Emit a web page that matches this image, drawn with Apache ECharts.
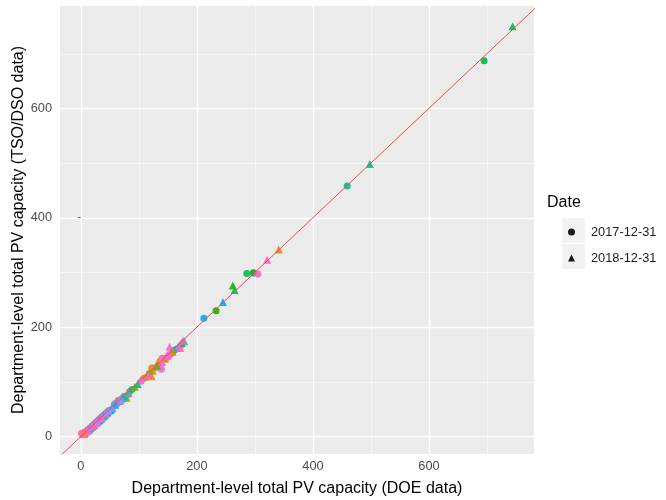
<!DOCTYPE html>
<html>
<head>
<meta charset="utf-8">
<script src="https://cdn.jsdelivr.net/npm/echarts@6/dist/echarts.min.js"></script>
<style>
  html, body { margin: 0; padding: 0; background: #fff; }
  #chart { width: 666px; height: 500px; }
</style>
</head>
<body>
<div id="chart"></div>
<script>
// Department codes (metropolitan France), in factor order
const departments = ['01','02','03','04','05','06','07','08','09','10','11','12','13','14','15','16','17','18','19','2A','2B',
  '21','22','23','24','25','26','27','28','29','30','31','32','33','34','35','36','37','38','39','40',
  '41','42','43','44','45','46','47','48','49','50','51','52','53','54','55','56','57','58','59','60',
  '61','62','63','64','65','66','67','68','69','70','71','72','73','74','75','76','77','78','79','80',
  '81','82','83','84','85','86','87','88','89','90','91','92','93','94','95'];

// Total installed PV capacity (MW) at 2017-12-31
const doe2017 = [58,18,64,158,72,108,298,12,40,30,146,132,122,22,38,70,112,35,27,62,75,
  26,36,24,84,24,118,16,20,40,233,160,297,695,286,30,48,26,88,15,459,
  25,44,32,66,35,64,165,34,58,14,12,16,28,36,53,42,30,46,28,212,
  10,20,74,62,30,154,48,26,30,42,60,38,20,24,4,16,22,8,139,10,
  104,128,305,150,152,140,32,18,30,4,8,1,4,5,6];
const tso2017 = [60,17,66,154,70,106,300,12,38,29,142,128,125,21,37,68,108,34,26,60,73,
  25,35,23,82,23,115,15,19,39,230,157,299,687,298,29,47,25,86,14,458,
  24,43,31,64,34,62,160,33,57,13,11,15,27,35,47,41,29,45,27,216,
  10,19,72,61,29,150,47,25,29,41,58,37,19,23,4,15,21,8,123,10,
  101,125,297,146,149,143,31,17,29,4,8,6,4,5,6];

// Total installed PV capacity (MW) at 2018-12-31
const doe2018 = [66,21,72,171,79,122,341,14,45,35,158,145,133,25,42,79,124,44,30,68,82,
  29,40,28,93,27,132,19,23,44,262,174,null,744,265,34,54,30,98,17,498,
  31,49,36,75,40,72,178,38,66,16,14,20,32,40,59,46,34,52,32,245,
  12,23,82,70,34,168,54,29,35,48,67,43,23,28,5,18,26,9,150,12,
  116,140,321,153,176,171,36,21,36,5,9,3,5,6,7];
const tso2018 = [67,20,73,168,78,110,342,13,44,34,155,142,137,25,40,71,120,43,29,66,80,
  29,39,27,91,26,129,18,22,43,276,171,null,750,268,33,53,29,96,17,498,
  30,48,35,73,39,71,174,37,65,16,14,19,31,39,58,45,33,51,31,246,
  11,22,80,69,33,165,53,28,34,47,66,42,22,27,5,18,25,9,148,12,
  113,136,323,164,175,162,35,20,35,5,9,7,5,6,7];

const dateLabels = ['2017-12-31', '2018-12-31'];
const majorTicks = [0, 200, 400, 600];
const minorTicks = [100, 300, 500, 700];

// Panel ranges (data range plus 5 % padding on each side)
const xRange = [-36, 781];
const yRange = [-32, 787];

// Default discrete hue palette: hcl(h, c = 100, l = 65), hues from 15 to 375
function hueColor(i, n) {
  const h = (15 + 360 * i / n) * Math.PI / 180;
  const L = 65, C = 100;
  const u = C * Math.cos(h), v = C * Math.sin(h);
  const Xn = 95.047, Yn = 100, Zn = 108.883;
  const Y = Yn * Math.pow((L + 16) / 116, 3);
  const den = Xn + 15 * Yn + 3 * Zn;
  const un = 4 * Xn / den, vn = 9 * Yn / den;
  const up = u / (13 * L) + un, vp = v / (13 * L) + vn;
  const X = Y * 9 * up / (4 * vp);
  const Z = Y * (12 - 3 * up - 20 * vp) / (4 * vp);
  const x = X / 100, y = Y / 100, z = Z / 100;
  const lin = [
    3.2404542 * x - 1.5371385 * y - 0.4985314 * z,
    -0.9692660 * x + 1.8760108 * y + 0.0415560 * z,
    0.0556434 * x - 0.2040259 * y + 1.0572252 * z
  ];
  const hex = lin.map(c => {
    let s = c <= 0.0031308 ? 12.92 * c : 1.055 * Math.pow(c, 1 / 2.4) - 0.055;
    s = Math.max(0, Math.min(1, s));
    return Math.round(s * 255).toString(16).padStart(2, '0');
  });
  return '#' + hex.join('');
}

const deptColors = departments.map((d, i) => hueColor(i, departments.length));

function pointsFor(doe, tso) {
  const out = [];
  departments.forEach((d, i) => {
    if (doe[i] == null || tso[i] == null) return;
    out.push({ name: d, value: [doe[i], tso[i]], itemStyle: { color: deptColors[i] } });
  });
  return out;
}

const FONT = "'Liberation Sans', Arial, sans-serif";

// White panel grid: one item per break, [value, value, orientation (0 = vertical, 1 = horizontal), major]
const gridBreaks = [];
minorTicks.forEach(v => { gridBreaks.push([v, v, 0, 0]); gridBreaks.push([v, v, 1, 0]); });
majorTicks.forEach(v => { gridBreaks.push([v, v, 0, 1]); gridBreaks.push([v, v, 1, 1]); });

// Grid lines are snapped to pixel centres so that they stay crisp
function renderGridLine(params, api) {
  const cs = params.coordSys;
  const p = api.coord([api.value(0), api.value(1)]);
  const vertical = api.value(2) === 0;
  const major = api.value(3) === 1;
  const sx = Math.round(p[0]) + 0.5;
  const sy = Math.round(p[1]) + 0.5;
  const shape = vertical
    ? { x1: sx, y1: cs.y, x2: sx, y2: cs.y + cs.height }
    : { x1: cs.x, y1: sy, x2: cs.x + cs.width, y2: sy };
  return {
    type: 'line',
    shape: shape,
    style: { stroke: major ? '#ffffff' : '#F5F5F5', lineWidth: major ? 1.5 : 1 }
  };
}

const chart = echarts.init(document.getElementById('chart'), null, { renderer: 'canvas' });

chart.setOption({
  animation: false,
  backgroundColor: '#ffffff',
  textStyle: { fontFamily: FONT },
  title: {
    text: 'Date',
    left: 547,
    top: 195,
    padding: 0,
    textStyle: { fontFamily: FONT, fontSize: 16, fontWeight: 'normal', color: '#000000' }
  },
  graphic: [
    { type: 'rect', left: 561, top: 217, z: 0, shape: { width: 24, height: 26 },
      style: { fill: '#F2F2F2', stroke: '#ffffff', lineWidth: 1 } },
    { type: 'rect', left: 561, top: 243, z: 0, shape: { width: 24, height: 26 },
      style: { fill: '#F2F2F2', stroke: '#ffffff', lineWidth: 1 } }
  ],
  legend: {
    orient: 'vertical',
    left: 568,
    top: 224,
    padding: 0,
    itemWidth: 7,
    itemHeight: 7,
    itemGap: 10,
    selectedMode: false,
    textStyle: { fontFamily: FONT, fontSize: 12.8, color: '#1A1A1A', lineHeight: 16, padding: [0, 0, 0, 11] },
    data: [
      { name: dateLabels[0], icon: 'circle', itemStyle: { color: '#000000' } },
      { name: dateLabels[1], icon: 'triangle', itemStyle: { color: '#000000' } }
    ]
  },
  grid: {
    left: 60, right: 132, top: 6, bottom: 46,
    containLabel: false,
    outerBoundsMode: 'none',
    show: true, backgroundColor: '#EBEBEB', borderWidth: 0
  },
  xAxis: {
    type: 'value',
    min: xRange[0], max: xRange[1],
    name: 'Department-level total PV capacity (DOE data)',
    nameLocation: 'middle',
    nameGap: 27,
    nameMoveOverlap: false,
    nameTextStyle: { fontFamily: FONT, fontSize: 16, color: '#000000' },
    axisLine: { show: false },
    axisTick: { show: true, customValues: majorTicks, length: 3, lineStyle: { color: '#333333', width: 1 } },
    axisLabel: { customValues: majorTicks, margin: 6, fontFamily: FONT, fontSize: 12.8, color: '#4D4D4D' },
    splitLine: { show: false }
  },
  yAxis: {
    type: 'value',
    min: yRange[0], max: yRange[1],
    name: 'Department-level total PV capacity (TSO/DSO data)',
    nameLocation: 'middle',
    nameGap: 33,
    nameMoveOverlap: false,
    nameTextStyle: { fontFamily: FONT, fontSize: 16, color: '#000000' },
    axisLine: { show: false },
    axisTick: { show: true, customValues: majorTicks, length: 3, lineStyle: { color: '#333333', width: 1 } },
    axisLabel: { customValues: majorTicks, margin: 8, fontFamily: FONT, fontSize: 12.8, color: '#4D4D4D' },
    splitLine: { show: false }
  },
  series: [
    {
      type: 'custom',
      z: 10,
      silent: true,
      renderItem: renderGridLine,
      encode: { x: 0, y: 1 },
      data: gridBreaks
    },
    {
      name: dateLabels[0],
      type: 'scatter',
      symbol: 'circle',
      symbolSize: 7,
      z: 11,
      itemStyle: { color: '#000000', opacity: 0.9 },
      data: pointsFor(doe2017, tso2017)
    },
    {
      name: dateLabels[1],
      type: 'scatter',
      symbol: 'triangle',
      symbolSize: 8,
      z: 11,
      itemStyle: { color: '#000000', opacity: 0.9 },
      data: pointsFor(doe2018, tso2018)
    },
    {
      // identity line y = x
      type: 'line',
      z: 12,
      silent: true,
      clip: true,
      symbol: 'none',
      lineStyle: { color: '#F24A4A', width: 1 },
      emphasis: { disabled: true },
      data: [[xRange[0] - 10, xRange[0] - 10], [xRange[1] + 10, xRange[1] + 10]]
    }
  ]
});
</script>
</body>
</html>
